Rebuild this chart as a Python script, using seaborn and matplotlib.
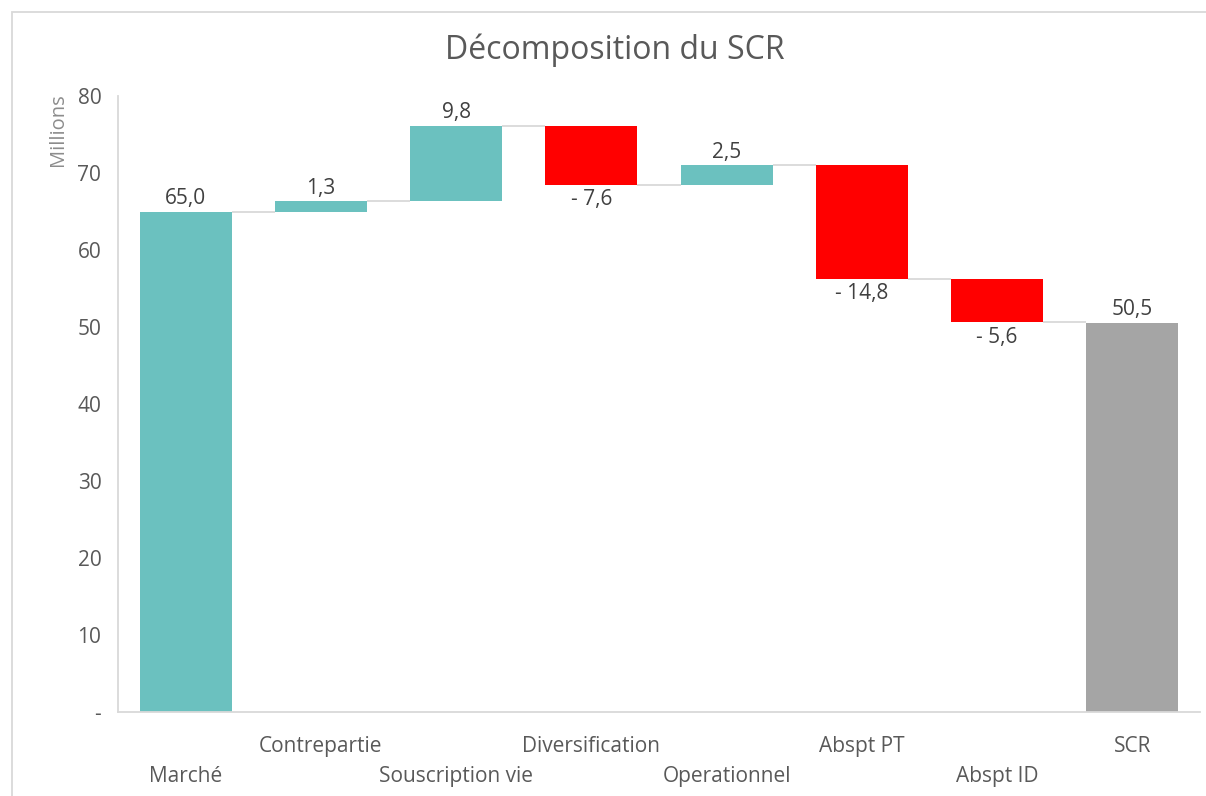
import numpy as np
import pandas as pd
import matplotlib
matplotlib.use("Agg")
import matplotlib.pyplot as plt
import seaborn as sns
from matplotlib.patches import Rectangle

# ---- data ----
categories = ["Marché", "Contrepartie", "Souscription vie", "Diversification",
              "Operationnel", "Abspt PT", "Abspt ID", "SCR"]
deltas = [65.0, 1.3, 9.8, -7.6, 2.5, -14.8, -5.6, 50.5]
kinds = ["total", "delta", "delta", "delta", "delta", "delta", "delta", "total"]
yticks = [0, 10, 20, 30, 40, 50, 60, 70, 80]

# ---- waterfall geometry from data ----
bottoms, heights, levels = [], [], []
running = 0.0
for d, k in zip(deltas, kinds):
    if k == "total":
        bottoms.append(0.0)
        heights.append(d)
        running = d
    else:
        start = running
        running = running + d
        bottoms.append(min(start, running))
        heights.append(abs(d))
    levels.append(running)

TEAL = "#6BC1BF"
RED = "#FF0000"
GREY = "#A5A5A5"
colors = []
for i, (d, k) in enumerate(zip(deltas, kinds)):
    if k == "total" and i == len(deltas) - 1:
        colors.append(GREY)
    elif d < 0:
        colors.append(RED)
    else:
        colors.append(TEAL)

df = pd.DataFrame({"cat": categories, "h": heights, "b": bottoms})

sns.set_theme(style="white")
plt.rcParams["font.family"] = ["Open Sans", "DejaVu Sans"]

fig = plt.figure(figsize=(12.06, 7.96), dpi=100)
ax = fig.add_axes([118 / 1206, 84 / 796, (1200 - 118) / 1206, (712 - 96) / 796])

sns.barplot(data=df, x="cat", y="h", bottom=df["b"].to_numpy(), order=categories,
            color=TEAL, width=0.68, ax=ax, linewidth=0, saturation=1)
for p, c in zip(ax.patches, colors):
    p.set_facecolor(c)
    p.set_edgecolor(c)

ax.set_xlim(-0.5, 7.5)
ax.set_ylim(0, 80)

# connectors
hw = 0.34
for i in range(len(categories) - 1):
    ax.plot([i + hw, i + 1 - hw], [levels[i], levels[i]], color="#D9D9D9",
            lw=1.3, zorder=1, solid_capstyle="butt")

# data labels
def fmt(v):
    s = f"{abs(v):.1f}".replace(".", ",")
    return ("- " + s) if v < 0 else s

for i, (d, b, h) in enumerate(zip(deltas, bottoms, heights)):
    if d >= 0:
        ax.annotate(fmt(d), (i, b + h), xytext=(0, 2), textcoords="offset points",
                    ha="center", va="bottom", fontsize=15, color="#404040")
    else:
        ax.annotate(fmt(d), (i, b), xytext=(0, -3), textcoords="offset points",
                    ha="center", va="top", fontsize=15, color="#404040")

# axes styling
for s in ["top", "right"]:
    ax.spines[s].set_visible(False)
for s in ["left", "bottom"]:
    ax.spines[s].set_color("#D9D9D9")
    ax.spines[s].set_linewidth(1.3)

ax.set_yticks(yticks)
ax.set_yticklabels(["-" if t == 0 else str(t) for t in yticks])
ax.tick_params(axis="y", length=0, pad=12, labelsize=15, labelcolor="#595959")
ax.tick_params(axis="x", length=0, labelsize=15, labelcolor="#595959")
ax.set_xlabel("")
ax.set_ylabel("")
ax.set_xticks(range(len(categories)))
ax.set_xticklabels(categories)
for i, t in enumerate(ax.xaxis.get_major_ticks()):
    t.set_pad(17 if i % 2 == 1 else 39)

fig.text(58 / 1206, 1 - 93 / 796, "Millions", rotation=90, ha="center", va="top",
         fontsize=14.5, color="#8C8C8C")
fig.text(615 / 1206, 1 - 50 / 796, "Décomposition du SCR", ha="center", va="center",
         fontsize=23, color="#595959")

fig.patches.append(Rectangle((12 / 1206, -0.1), 1.2, 1 - 12 / 796 + 0.1,
                             transform=fig.transFigure, fill=False,
                             edgecolor="#D9D9D9", lw=1.3, zorder=0))

fig.savefig("out.png", dpi=100)
